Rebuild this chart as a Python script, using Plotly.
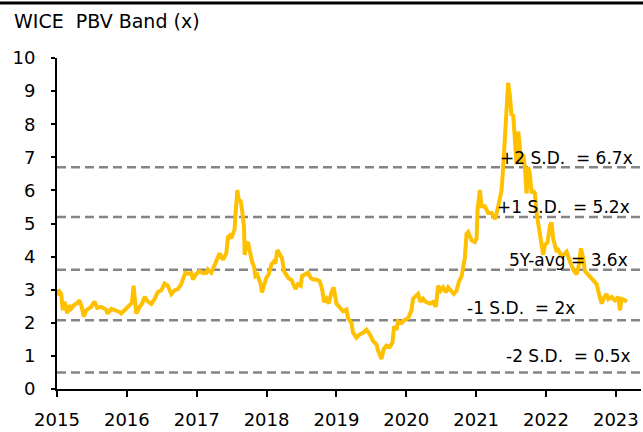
import plotly.graph_objects as go

# PBV series (decimal year, multiple x)
years = [
    2015.003, 2015.021, 2015.060, 2015.083, 2015.107, 2015.146, 2015.179, 2015.203, 2015.251, 2015.294,
    2015.322, 2015.351, 2015.384, 2015.418, 2015.490, 2015.537, 2015.576, 2015.633, 2015.705, 2015.723,
    2015.777, 2015.848, 2015.895, 2015.920, 2015.967, 2016.039, 2016.072, 2016.096, 2016.120, 2016.135,
    2016.182, 2016.215, 2016.254, 2016.301, 2016.350, 2016.397, 2016.444, 2016.493, 2016.540, 2016.587,
    2016.636, 2016.683, 2016.731, 2016.779, 2016.802, 2016.837, 2016.874, 2016.923, 2016.946, 2016.994,
    2017.042, 2017.089, 2017.138, 2017.160, 2017.209, 2017.256, 2017.304, 2017.328, 2017.375, 2017.424,
    2017.447, 2017.471, 2017.496, 2017.519, 2017.543, 2017.553, 2017.567, 2017.582, 2017.600, 2017.629,
    2017.648, 2017.676, 2017.686, 2017.711, 2017.734, 2017.758, 2017.791, 2017.820, 2017.840, 2017.868,
    2017.887, 2017.916, 2017.934, 2017.963, 2017.997, 2018.030, 2018.069, 2018.102, 2018.126, 2018.155,
    2018.188, 2018.221, 2018.249, 2018.284, 2018.317, 2018.355, 2018.378, 2018.413, 2018.450, 2018.489,
    2018.507, 2018.546, 2018.593, 2018.632, 2018.665, 2018.713, 2018.761, 2018.794, 2018.822, 2018.857,
    2018.890, 2018.928, 2018.961, 2019.000, 2019.047, 2019.095, 2019.143, 2019.166, 2019.215, 2019.238,
    2019.287, 2019.334, 2019.381, 2019.430, 2019.477, 2019.524, 2019.573, 2019.596, 2019.645, 2019.678,
    2019.716, 2019.764, 2019.802, 2019.825, 2019.860, 2019.883, 2019.931, 2019.979, 2020.026, 2020.075,
    2020.097, 2020.136, 2020.169, 2020.203, 2020.241, 2020.279, 2020.337, 2020.384, 2020.423, 2020.456,
    2020.490, 2020.527, 2020.566, 2020.599, 2020.648, 2020.681, 2020.719, 2020.756, 2020.791, 2020.814,
    2020.838, 2020.862, 2020.885, 2020.934, 2020.981, 2021.006, 2021.020, 2021.053, 2021.077, 2021.125,
    2021.172, 2021.221, 2021.268, 2021.307, 2021.340, 2021.364, 2021.387, 2021.411, 2021.436, 2021.458,
    2021.483, 2021.507, 2021.530, 2021.555, 2021.579, 2021.602, 2021.626, 2021.650, 2021.673, 2021.698,
    2021.722, 2021.745, 2021.769, 2021.794, 2021.817, 2021.841, 2021.865, 2021.888, 2021.937, 2021.960,
    2021.984, 2022.023, 2022.056, 2022.080, 2022.103, 2022.128, 2022.152, 2022.175, 2022.214, 2022.247,
    2022.295, 2022.342, 2022.390, 2022.438, 2022.471, 2022.500, 2022.533, 2022.557, 2022.605, 2022.643,
    2022.676, 2022.725, 2022.758, 2022.797, 2022.834, 2022.868, 2022.891, 2022.940, 2022.987, 2023.034,
    2023.059, 2023.083, 2023.130, 2023.155,
]
pbv = [
    2.82, 3.00, 2.87, 2.38, 2.64, 2.29, 2.53, 2.43, 2.55, 2.60,
    2.68, 2.50, 2.19, 2.38, 2.48, 2.64, 2.45, 2.48, 2.40, 2.28,
    2.42, 2.38, 2.33, 2.28, 2.37, 2.53, 2.60, 3.12, 2.50, 2.28,
    2.48, 2.57, 2.78, 2.64, 2.57, 2.72, 2.93, 2.98, 3.19, 3.12,
    2.87, 2.98, 3.02, 3.17, 3.31, 3.51, 3.48, 3.50, 3.31, 3.48,
    3.56, 3.50, 3.51, 3.61, 3.51, 3.76, 4.05, 4.10, 3.90, 4.10,
    4.59, 4.64, 4.55, 4.74, 4.83, 5.23, 5.86, 6.01, 5.72, 5.67,
    5.42, 4.93, 4.05, 4.39, 4.44, 4.15, 3.85, 3.70, 3.41, 3.45,
    3.34, 3.17, 2.92, 3.17, 3.36, 3.46, 3.76, 3.85, 3.80, 4.20,
    4.10, 3.95, 3.56, 3.46, 3.34, 3.30, 3.15, 3.02, 3.17, 3.12,
    3.41, 3.46, 3.51, 3.36, 3.31, 3.31, 3.26, 3.02, 2.63, 2.73,
    2.58, 2.92, 3.07, 2.58, 2.45, 2.35, 2.40, 2.14, 2.00, 1.70,
    1.55, 1.65, 1.70, 1.79, 1.65, 1.45, 1.35, 1.16, 0.91, 1.21,
    1.31, 1.27, 1.40, 1.89, 1.79, 2.04, 1.99, 2.09, 2.14, 2.38,
    2.73, 2.82, 2.87, 2.63, 2.73, 2.63, 2.58, 2.63, 2.48, 3.12,
    2.97, 3.07, 2.92, 3.07, 2.97, 2.87, 2.97, 3.26, 3.40, 3.61,
    3.95, 4.69, 4.74, 4.49, 4.44, 4.54, 5.42, 6.01, 5.52, 5.52,
    5.32, 5.32, 5.13, 5.42, 5.81, 6.01, 6.70, 7.68, 8.66, 9.25,
    8.86, 8.26, 8.30, 7.68, 6.79, 7.78, 7.39, 6.79, 7.09, 6.70,
    5.91, 6.70, 6.50, 5.91, 6.00, 5.91, 5.32, 5.03, 4.34, 4.05,
    4.34, 4.44, 4.93, 5.03, 4.54, 4.34, 4.15, 4.20, 4.05, 4.05,
    4.15, 3.85, 3.61, 3.46, 3.75, 4.25, 3.95, 3.56, 3.46, 3.36,
    3.31, 3.17, 2.87, 2.58, 2.78, 2.87, 2.72, 2.78, 2.68, 2.78,
    2.38, 2.72, 2.68, 2.63,
]

band_values = [6.7, 5.2, 3.6, 2.08, 0.5]
band_labels = ["+2 S.D.  = 6.7x", "+1 S.D.  = 5.2x", "5Y-avg = 3.6x", "-1 S.D.  = 2x", "-2 S.D.  = 0.5x"]
x_ticks = [2015, 2016, 2017, 2018, 2019, 2020, 2021, 2022, 2023]
y_ticks = [0, 1, 2, 3, 4, 5, 6, 7, 8, 9, 10]

FONT = "DejaVu Sans"
W, H = 643, 432
ML, MR, MT, MB = 57, 2, 58, 34
PW, PH = W - ML - MR, H - MT - MB

def px_x(px):
    return (px - ML) / PW

fig = go.Figure()
fig.add_trace(go.Scatter(x=years, y=pbv, mode="lines",
                         line=dict(color="#FFC000", width=4), showlegend=False,
                         hoverinfo="skip"))

# band lines
for v in band_values:
    fig.add_shape(type="line", xref="paper", yref="y", x0=0, x1=1, y0=v, y1=v,
                  line=dict(color="#858585", width=2.5, dash="9px,5px"), layer="below")

label_right = [635, 632, 630, 577, 633]
label_shift = [9, 10, 10, 12, 16]
for v, t, rx, sh in zip(band_values, band_labels, label_right, label_shift):
    fig.add_annotation(x=px_x(rx), xref="paper", y=v, yref="y", text=t, showarrow=False,
                       xanchor="right", yanchor="middle", yshift=sh,
                       font=dict(family=FONT, size=17, color="#000"))

# top rule
fig.add_shape(type="line", xref="paper", yref="paper",
              x0=-ML / PW, x1=(W - ML) / PW, y0=1 + (MT - 1.5) / PH, y1=1 + (MT - 1.5) / PH,
              line=dict(color="#000", width=3))

fig.update_layout(
    width=W, height=H,
    margin=dict(l=ML, r=MR, t=MT, b=MB),
    paper_bgcolor="white", plot_bgcolor="white",
    font=dict(family=FONT, size=18, color="#000"),
    title=dict(text="WICE  PBV Band (x)", x=14 / W, xref="container", xanchor="left",
               y=1 - 21.5 / H, yref="container", yanchor="middle",
               font=dict(family=FONT, size=19, color="#000")),
    xaxis=dict(range=[2015, 2023.36], tickvals=x_ticks, ticktext=[str(t) for t in x_ticks],
               showgrid=False, zeroline=False, showline=True, linecolor="#000", linewidth=2,
               ticks="outside", ticklen=6, tickwidth=2, tickcolor="#000",
               ticklabelstandoff=7, tickfont=dict(family=FONT, size=18, color="#000")),
    yaxis=dict(range=[0, 10], tickvals=y_ticks, showgrid=False, zeroline=False,
               showline=True, linecolor="#000", linewidth=2,
               ticks="outside", ticklen=4, tickwidth=2, tickcolor="#000",
               ticklabelstandoff=12, tickfont=dict(family=FONT, size=18, color="#000")),
)

fig.write_html("out.html", config={"displayModeBar": False},
               post_script="document.body.style.margin='0';document.body.style.overflow='hidden';")
